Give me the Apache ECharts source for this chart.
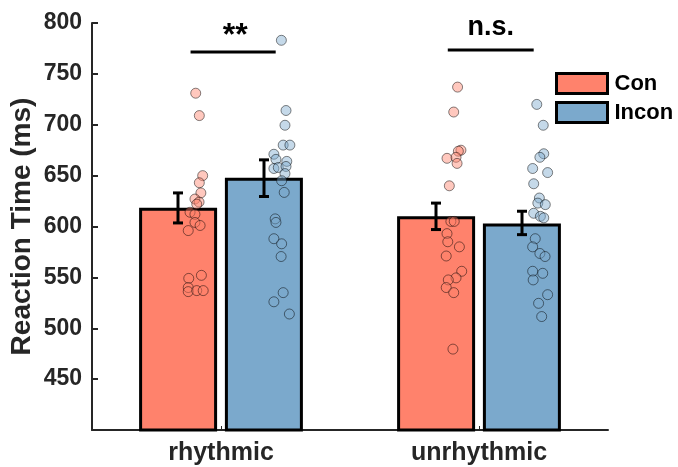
<!DOCTYPE html>
<html>
<head>
<meta charset="utf-8">
<script src="https://cdn.jsdelivr.net/npm/echarts@6/dist/echarts.min.js"></script>
<style>
  html, body { margin: 0; padding: 0; background: #fff; }
  #rtChart { width: 678px; height: 467px; }
</style>
</head>
<body>
<div id="rtChart"></div>
<script>
// condition names and bar means (ms)
const categories = ['rhythmic', 'unrhythmic'];
const conMean = [618.5, 610];
const inconMean = [648, 603];
// error bar ends (ms)
const conErrLow = [603.5, 597];
const conErrHigh = [633, 623];
const inconErrLow = [629.5, 592];
const inconErrHigh = [665.5, 615];

// single subject points: RT and horizontal jitter (category units from category centre)
const conRhythmicRT = [731, 709, 650, 643, 633, 627, 624, 622, 614, 612, 604, 601, 596, 552, 549, 540, 536, 537, 537];
const conRhythmicJit = [-0.098, -0.084, -0.071, -0.084, -0.078, -0.101, -0.085, -0.094, -0.120, -0.101, -0.101, -0.081, -0.127, -0.076, -0.125, -0.127, -0.127, -0.094, -0.069];
const inconRhythmicRT = [783, 714, 699.5, 680, 680, 671, 666, 664, 657, 658, 659, 652, 645, 633.5, 607.5, 604, 588, 583, 570.5, 535, 526, 514];
const inconRhythmicJit = [0.234, 0.252, 0.248, 0.241, 0.267, 0.205, 0.213, 0.255, 0.205, 0.222, 0.252, 0.248, 0.235, 0.245, 0.210, 0.213, 0.205, 0.235, 0.233, 0.241, 0.205, 0.265];
const conUnrhythmicRT = [737, 712.5, 675, 674, 667, 668, 662, 640, 605, 605, 593, 585, 580, 571, 556, 549.5, 547.5, 540, 535, 479.5];
const conUnrhythmicJit = [-0.083, -0.098, -0.070, -0.080, -0.124, -0.089, -0.085, -0.115, -0.109, -0.096, -0.124, -0.121, -0.076, -0.127, -0.067, -0.089, -0.119, -0.127, -0.098, -0.101];
const inconUnrhythmicRT = [720, 699.5, 671.5, 668, 657, 653, 642, 628, 623, 621.5, 613, 610, 608.5, 588, 580, 573.5, 570.5, 556, 554, 547.5, 533, 524.5, 511.5];
const inconUnrhythmicJit = [0.224, 0.249, 0.251, 0.236, 0.208, 0.266, 0.212, 0.234, 0.228, 0.257, 0.212, 0.238, 0.251, 0.218, 0.208, 0.236, 0.256, 0.208, 0.247, 0.210, 0.266, 0.231, 0.243];

// significance brackets (x in category units, y in ms)
const sigLabels = ['**', 'n.s.'];
const sigY = [771.5, 773.5];
const sigStart = [-0.118, 0.879];
const sigEnd = [0.212, 1.212];

const yTicks = [450, 500, 550, 600, 650, 700, 750, 800];

const conColor = '#FF826C';
const inconColor = '#7BA9CC';
const barW = 78;
const barShift = 43; // px from category centre to bar centre

function points(rt, jit, cat) {
  return rt.map((v, i) => [cat + jit[i], v]);
}

function errData(lo, hi) {
  return lo.map((v, i) => [i, v, hi[i]]);
}

function makeErr(side) {
  return function (params, api) {
    const c = api.coord([api.value(0), api.value(2)]);
    const x = c[0] + side * barShift;
    const yHi = c[1];
    const yLo = api.coord([api.value(0), api.value(1)])[1];
    const cap = 5;
    const st = { stroke: '#000', lineWidth: 3 };
    return {
      type: 'group',
      children: [
        { type: 'line', shape: { x1: x, y1: yHi, x2: x, y2: yLo }, style: st },
        { type: 'line', shape: { x1: x - cap, y1: yHi, x2: x + cap, y2: yHi }, style: st },
        { type: 'line', shape: { x1: x - cap, y1: yLo, x2: x + cap, y2: yLo }, style: st }
      ]
    };
  };
}

function renderSig(params, api) {
  const p1 = api.coord([api.value(0), api.value(2)]);
  const p2 = api.coord([api.value(1), api.value(2)]);
  const lab = sigLabels[params.dataIndex];
  const big = lab === '**';
  return {
    type: 'group',
    children: [
      { type: 'line', shape: { x1: p1[0], y1: p1[1], x2: p2[0], y2: p2[1] }, style: { stroke: '#000', lineWidth: 3 } },
      {
        type: 'text',
        x: (p1[0] + p2[0]) / 2 + (big ? 2 : 0),
        y: p1[1] - (big ? 0 : 9),
        style: {
          text: lab,
          fill: '#000',
          font: 'bold ' + (big ? 32 : 27) + 'px "Liberation Sans", Arial, sans-serif',
          align: 'center',
          verticalAlign: 'bottom'
        }
      }
    ]
  };
}

const chartInstance = echarts.init(document.getElementById('rtChart'), null, { renderer: 'canvas' });

const ptStyle = (fill) => ({
  color: fill,
  borderColor: 'rgba(0,0,0,0.6)',
  borderWidth: 1
});

const option = {
  backgroundColor: '#ffffff',
  animation: false,
  textStyle: { fontFamily: '"Liberation Sans", Arial, sans-serif' },
  grid: { left: 92, right: 70, top: 23, bottom: 37, containLabel: false, outerBoundsMode: 'none' },
  legend: {
    data: ['Con', 'Incon'],
    orient: 'vertical',
    left: 555,
    top: 72,
    padding: 0,
    itemWidth: 51,
    itemHeight: 20,
    itemGap: 6,
    icon: 'rect',
    textStyle: { fontSize: 22, fontWeight: 'bold', color: '#000', padding: [0, 0, 0, 2] },
    itemStyle: { borderColor: '#000', borderWidth: 3 }
  },
  xAxis: [
    {
      type: 'category',
      data: categories,
      axisLine: { lineStyle: { color: '#262626', width: 2 } },
      axisTick: { show: true, inside: true, alignWithLabel: true, length: 4, lineStyle: { color: '#262626', width: 1 } },
      axisLabel: { color: '#262626', fontSize: 25, fontWeight: 'bold', margin: 11 },
      splitLine: { show: false }
    },
    {
      type: 'value',
      min: -0.5,
      max: 1.5,
      show: false,
      splitLine: { show: false }
    }
  ],
  yAxis: {
    type: 'value',
    min: 400,
    max: 800,
    interval: 50,
    name: 'Reaction Time (ms)',
    nameLocation: 'middle',
    nameGap: 56,
    nameMoveOverlap: false,
    nameTextStyle: { fontSize: 28, fontWeight: 'bold', color: '#262626' },
    axisLine: { show: true, onZero: false, lineStyle: { color: '#262626', width: 2 } },
    axisTick: { show: true, inside: true, length: 6, lineStyle: { color: '#262626', width: 2 } },
    axisLabel: {
      color: '#262626', fontSize: 23, fontWeight: 'bold', margin: 10,
      formatter: v => (yTicks.indexOf(v) >= 0 ? String(v) : '')
    },
    splitLine: { show: false }
  },
  series: [
    {
      name: 'Con', type: 'bar', data: conMean, barWidth: barW, barGap: '10%',
      itemStyle: { color: conColor, borderColor: '#000', borderWidth: 3 }, z: 1
    },
    {
      name: 'Incon', type: 'bar', data: inconMean, barWidth: barW, barGap: '10%',
      itemStyle: { color: inconColor, borderColor: '#000', borderWidth: 3 }, z: 1
    },
    {
      name: 'conPts', type: 'scatter', xAxisIndex: 1, symbolSize: 10, z: 3,
      data: points(conRhythmicRT, conRhythmicJit, 0).concat(points(conUnrhythmicRT, conUnrhythmicJit, 1)),
      itemStyle: ptStyle('rgba(255,130,108,0.55)')
    },
    {
      name: 'inconPts', type: 'scatter', xAxisIndex: 1, symbolSize: 10, z: 3,
      data: points(inconRhythmicRT, inconRhythmicJit, 0).concat(points(inconUnrhythmicRT, inconUnrhythmicJit, 1)),
      itemStyle: ptStyle('rgba(123,169,204,0.55)')
    },
    {
      name: 'conErr', type: 'custom', xAxisIndex: 0, z: 4,
      renderItem: makeErr(-1), data: errData(conErrLow, conErrHigh)
    },
    {
      name: 'inconErr', type: 'custom', xAxisIndex: 0, z: 4,
      renderItem: makeErr(1), data: errData(inconErrLow, inconErrHigh)
    },
    {
      name: 'sig', type: 'custom', xAxisIndex: 1, z: 5, clip: false,
      encode: { x: [0, 1], y: 2 },
      renderItem: renderSig,
      data: sigStart.map((s, i) => [s, sigEnd[i], sigY[i]])
    }
  ]
};

chartInstance.setOption(option);
window.onresize = function () {
  chartInstance.resize();
};
</script>
</body>
</html>
